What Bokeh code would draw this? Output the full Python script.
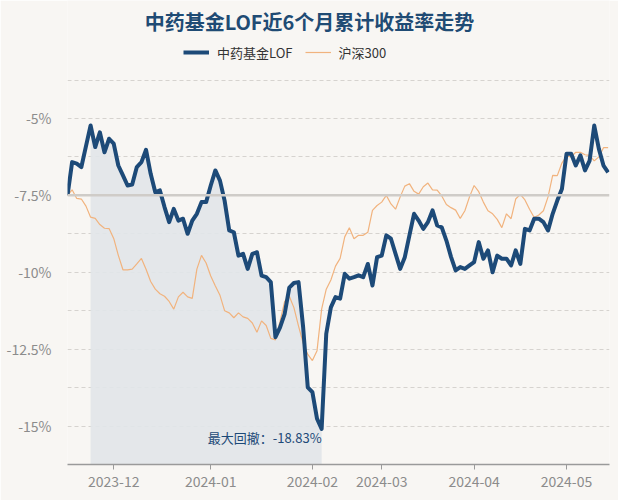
from bokeh.plotting import figure
from bokeh.models import Range1d, FixedTicker, Span, Legend, LegendItem, Label
from bokeh.embed import file_html
from bokeh.resources import INLINE

# ---- data (cumulative return, %) ----
fund = [
    -7.50, -6.42, -6.47, -6.58, -5.90, -5.23, -5.93, -5.45, -6.10, -5.66,
    -5.82, -6.53, -6.85, -7.18, -7.15, -6.58, -6.42, -6.02, -6.80, -7.40,
    -7.34, -7.88, -8.37, -7.94, -8.32, -8.26, -8.75, -8.32, -8.10, -7.72,
    -7.72, -7.18, -6.69, -7.02, -7.67, -8.64, -8.70, -9.46, -9.40, -9.89,
    -9.40, -9.35, -10.11, -10.16, -10.32, -12.11, -11.79, -11.35, -10.50, -10.35,
    -10.32, -11.79, -13.74, -13.90, -14.76, -15.09, -12.00, -11.14, -10.81, -10.86,
    -10.05, -10.21, -10.16, -10.10, -10.16, -9.73, -10.43, -9.51, -9.46, -8.80,
    -8.91, -9.40, -9.89, -9.51, -8.80, -8.10, -8.32, -8.59, -8.37, -7.99,
    -8.48, -8.54, -8.97, -9.50, -9.94, -9.83, -9.89, -9.78, -9.67, -9.02,
    -9.56, -9.29, -10.00, -9.46, -9.56, -9.56, -9.78, -9.29, -9.73, -8.59,
    -8.64, -8.26, -8.26, -8.37, -8.64, -8.10, -7.67, -7.29, -6.15, -6.15,
    -6.53, -6.20, -6.69, -6.37, -5.23, -5.99, -6.53, -6.75,
]
hs300 = [
    -7.50, -7.32, -7.60, -7.62, -7.85, -8.21, -8.25, -8.45, -8.57, -8.58,
    -8.90, -9.45, -9.92, -9.92, -9.90, -9.73, -9.55, -9.90, -10.30, -10.55,
    -10.70, -10.78, -10.95, -11.20, -10.80, -10.65, -10.80, -10.85, -9.90, -9.45,
    -9.70, -10.12, -10.45, -10.75, -11.25, -11.32, -11.48, -11.32, -11.45, -11.50,
    -11.65, -11.95, -11.58, -11.73, -12.15, -12.20, -11.60, -10.95, -10.78, -11.15,
    -11.75, -12.30, -12.67, -12.87, -12.55, -11.20, -10.55, -10.25, -9.80, -9.55,
    -8.85, -8.55, -8.91, -8.80, -8.80, -8.70, -7.99, -7.83, -7.72, -7.50,
    -7.78, -7.95, -7.55, -7.20, -7.12, -7.37, -7.46, -7.22, -7.10, -7.32,
    -7.33, -7.52, -7.80, -7.90, -7.98, -8.25, -8.00, -7.55, -7.18, -7.38,
    -7.72, -8.00, -8.10, -8.28, -8.55, -8.10, -8.26, -7.62, -7.47, -7.65,
    -7.95, -8.22, -8.14, -8.00, -7.55, -6.85, -6.86, -6.45, -6.22, -6.25,
    -6.10, -6.10, -6.18, -6.20, -6.38, -6.25, -5.95, -5.95,
]
series_names = ["中药基金LOF", "沪深300"]
tick_idx = [10, 31, 53, 68, 88, 108]
tick_labels = ["2023-12", "2024-01", "2024-02", "2024-03", "2024-04", "2024-05"]
y_ticks = [-15, -12.5, -10, -7.5, -5]
y_labels = ["-15%", "-12.5%", "-10%", "-7.5%", "-5%"]
grid_levels = [-15, -13.75, -12.5, -11.25, -10, -8.75, -6.25, -5, -3.75]
base_level = -7.5
dd_start, dd_end = 5, 55
dd_text = "最大回撤：-18.83%"
title_text = "中药基金LOF近6个月累计收益率走势"

BG = "#f8f6f3"
BLUE = "#1d4a78"
ORANGE = "#f1b37e"
FONT = "Noto Sans CJK SC"

W, H = 618, 500
LEFT, RIGHT, BOTTOM = 67, 9, 36
frame_w = W - LEFT - RIGHT
frame_h = H - BOTTOM
x_max = 117.3
px_per_y = 30.76          # pixels per 1 % on the value axis
y_min = -16.25
y_max = y_min + frame_h / px_per_y
px_per_x = frame_w / x_max


def to_data(px, py):
    """canvas pixel (from top-left) -> data coordinates"""
    return (px - LEFT) / px_per_x, y_max - py / px_per_y


x = list(range(len(fund)))

p = figure(width=W, height=H, output_backend="svg", toolbar_location=None,
           x_range=Range1d(0, x_max), y_range=Range1d(y_min, y_max),
           background_fill_color=BG, border_fill_color=BG, outline_line_color=None,
           min_border_left=LEFT, min_border_right=RIGHT, min_border_bottom=BOTTOM,
           min_border_top=0)

# drawdown shading (area under the fund line between peak and trough)
p.varea(x=x[dd_start:dd_end + 1], y1=y_min, y2=fund[dd_start:dd_end + 1],
        fill_color="#e1e5e9", fill_alpha=0.9)

# grid
p.xgrid.visible = False
p.ygrid.ticker = FixedTicker(ticks=grid_levels)
p.ygrid.grid_line_color = "#d6d3cf"
p.ygrid.grid_line_dash = "4 3"
p.ygrid.grid_line_width = 1
p.add_layout(Span(location=base_level, dimension="width", line_color="#cfccc8", line_width=2.5))

# axes
p.yaxis.ticker = FixedTicker(ticks=y_ticks)
p.yaxis.major_label_overrides = {t: l for t, l in zip(y_ticks, y_labels)}
p.yaxis.axis_line_color = None
p.yaxis.major_tick_line_color = None
p.yaxis.minor_tick_line_color = None
p.yaxis.major_label_text_color = "#8c8c8c"
p.yaxis.major_label_text_font_size = "14px"
p.yaxis.major_label_text_font = FONT
p.yaxis.major_label_standoff = 10

p.xaxis.ticker = FixedTicker(ticks=tick_idx)
p.xaxis.major_label_overrides = {t: l for t, l in zip(tick_idx, tick_labels)}
p.xaxis.axis_line_color = "#9a9a9a"
p.xaxis.axis_line_width = 1.5
p.xaxis.major_tick_line_color = "#9a9a9a"
p.xaxis.major_tick_out = 5
p.xaxis.major_tick_in = 0
p.xaxis.minor_tick_line_color = None
p.xaxis.major_label_text_color = "#8c8c8c"
p.xaxis.major_label_text_font_size = "14px"
p.xaxis.major_label_text_font = FONT
p.xaxis.major_label_standoff = 6

# lines
r_h = p.line(x, hs300, line_color=ORANGE, line_width=1.2)
r_f = p.line(x, fund, line_color=BLUE, line_width=4, line_join="round")

p.add_layout(Label(x=dd_end, y=-15.37, text=dd_text, text_align="right",
                   text_baseline="middle", text_font_size="13px", text_font=FONT,
                   text_color=BLUE))

# title (drawn in the top band of the frame)
tx, ty = to_data(W / 2, 21)
p.add_layout(Label(x=tx, y=ty, text=title_text,
                   text_align="center", text_baseline="middle", text_font_size="20px",
                   text_font_style="bold", text_font=FONT, text_color="#1f4b74"))

legend = Legend(items=[LegendItem(label=series_names[0], renderers=[r_f]),
                       LegendItem(label=series_names[1], renderers=[r_h])],
                orientation="horizontal", location=(183 - LEFT, frame_h - 62),
                label_text_font_size="13px", label_text_font=FONT, label_text_color="#333333",
                glyph_width=26, glyph_height=20, label_height=20, label_standoff=8,
                spacing=12, border_line_color=None,
                background_fill_alpha=0, padding=0, margin=0)
p.add_layout(legend, "center")

open("out.html", "w").write(file_html(p, INLINE))
